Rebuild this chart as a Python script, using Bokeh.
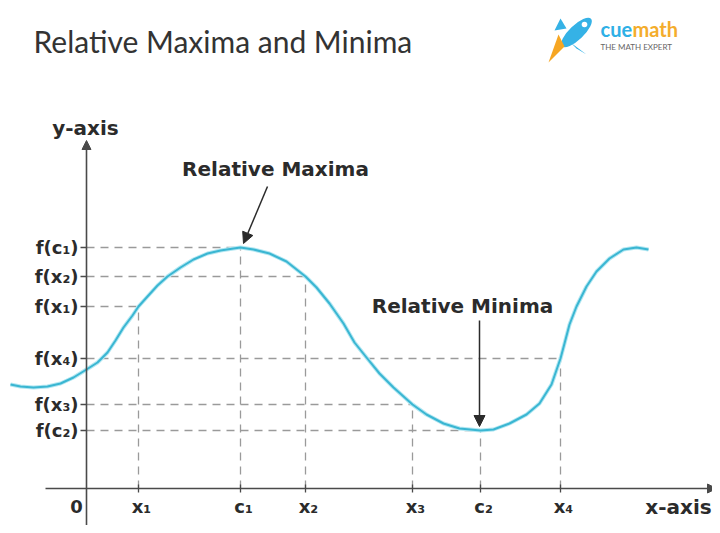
from bokeh.plotting import figure
from bokeh.models import Range1d, Arrow, NormalHead
from bokeh.core.properties import value
from bokeh.embed import file_html
from bokeh.resources import INLINE

# ---- data (units: one grid unit = 40 px) ----
curve_x = [-1.9, -1.65, -1.325, -0.975, -0.65, -0.325, 0.0, 0.275, 0.525, 0.725, 0.925,
           1.15, 1.3, 1.525, 1.775, 2.025, 2.35, 2.675, 3.025, 3.35, 3.675, 3.85,
           4.175, 4.575, 5.0, 5.475, 5.75, 6.075, 6.425, 6.7, 7.0, 7.325, 7.675,
           8.15, 8.5, 8.925, 9.325, 9.85, 10.175, 10.575, 11.0, 11.325, 11.625,
           11.85, 11.95, 12.075, 12.25, 12.5, 12.75, 13.075, 13.425, 13.75, 14.05]
curve_y = [2.6, 2.55, 2.525, 2.55, 2.625, 2.775, 2.975, 3.15, 3.4, 3.7, 4.025,
           4.325, 4.55, 4.8, 5.075, 5.3, 5.525, 5.725, 5.875, 5.95, 6.0, 6.025,
           5.975, 5.875, 5.675, 5.3, 5.025, 4.625, 4.125, 3.65, 3.275, 2.875, 2.525,
           2.1, 1.85, 1.625, 1.5, 1.45, 1.475, 1.625, 1.85, 2.125, 2.6,
           3.25, 3.625, 4.1, 4.55, 5.05, 5.425, 5.75, 5.975, 6.025, 5.975]

tick_x = [1.3, 3.85, 5.475, 8.15, 9.85, 11.85]
tick_x_labels = ["x\u2081", "c\u2081", "x\u2082", "x\u2083", "c\u2082", "x\u2084"]
tick_fy = [4.55, 6.025, 5.3, 2.1, 1.45, 3.25]
tick_y_labels = ["f(x\u2081)", "f(c\u2081)", "f(x\u2082)", "f(x\u2083)", "f(c\u2082)", "f(x\u2084)"]

title_text = "Relative Maxima and Minima"
max_label = "Relative Maxima"
min_label = "Relative Minima"

# ---- figure ----
p = figure(width=712, height=525, x_range=Range1d(-2.15, 15.65), y_range=Range1d(-0.925, 12.2),
           output_backend="svg", toolbar_location=None, x_axis_type=None, y_axis_type=None,
           min_border=0)
p.outline_line_color = None
p.background_fill_color = "white"
p.xgrid.visible = False
p.ygrid.visible = False

DARK = "#2b2b2b"
AXIS = "#4a4a4a"
DASH = "#9a9a9a"
n = len(tick_x)

# dashed guides
p.segment(x0=[0] * n, y0=tick_fy, x1=tick_x, y1=tick_fy, line_color=DASH,
          line_width=1.3, line_dash="8 6")
p.segment(x0=tick_x, y0=[0] * n, x1=tick_x, y1=tick_fy, line_color=DASH,
          line_width=1.3, line_dash="8 6")

# axes with arrow heads
p.add_layout(Arrow(x_start=-1.025, y_start=0, x_end=15.75, y_end=0, line_color=AXIS,
                   line_width=1.6, end=NormalHead(size=9, fill_color=AXIS, line_color=AXIS)))
p.add_layout(Arrow(x_start=0, y_start=-0.925, x_end=0, y_end=8.7, line_color=AXIS,
                   line_width=1.6, end=NormalHead(size=9, fill_color=AXIS, line_color=AXIS)))

# tick marks
p.segment(x0=tick_x, y0=[-0.1] * n, x1=tick_x, y1=[0.1] * n, line_color=AXIS, line_width=1.3)
p.segment(x0=[-0.15] * n, y0=tick_fy, x1=[0] * n, y1=tick_fy, line_color=AXIS, line_width=1.3)

# curve
p.line(curve_x, curve_y, line_color="#b3e7f2", line_width=4.0, line_join="round")
p.line(curve_x, curve_y, line_color="#3ab6d2", line_width=2.0, line_join="round")

LF = value("DejaVu Sans")
# tick labels
p.text(x=[-0.2] * n, y=tick_fy, text=tick_y_labels, text_align="right", text_baseline="middle",
       text_font=LF, text_font_style="bold", text_font_size="18px", text_color=DARK)
p.text(x=tick_x, y=[-0.45] * n, text=tick_x_labels, text_align="center", text_baseline="middle",
       x_offset=3, text_font=LF, text_font_style="bold", text_font_size="18px", text_color=DARK)
p.text(x=[-0.25], y=[-0.45], text=["0"], text_align="center", text_baseline="middle",
       text_font=LF, text_font_style="bold", text_font_size="18px", text_color=DARK)

# axis names
p.text(x=[14.8], y=[-0.45], text=["x-axis"], text_align="center", text_baseline="middle",
       text_font=LF, text_font_style="bold", text_font_size="20px", text_color=DARK)
p.text(x=[-0.025], y=[9.025], text=["y-axis"], text_align="center", text_baseline="middle",
       text_font=LF, text_font_style="bold", text_font_size="20px", text_color=DARK)

# annotations
p.text(x=[4.725], y=[8.0], text=[max_label], text_align="center", text_baseline="middle",
       text_font=LF, text_font_style="bold", text_font_size="20px", text_color=DARK)
p.text(x=[9.4], y=[4.575], text=[min_label], text_align="center", text_baseline="middle",
       text_font=LF, text_font_style="bold", text_font_size="20px", text_color=DARK)
p.add_layout(Arrow(x_start=4.525, y_start=7.55, x_end=3.925, y_end=6.125, line_color=DARK,
                   line_width=1.5, end=NormalHead(size=11, fill_color=DARK, line_color=DARK)))
p.add_layout(Arrow(x_start=9.825, y_start=4.2, x_end=9.825, y_end=1.55, line_color=DARK,
                   line_width=1.5, end=NormalHead(size=11, fill_color=DARK, line_color=DARK)))

# title
p.text(x=[-1.325], y=[11.2], text=[title_text], text_align="left", text_baseline="middle",
       text_font=value("Lato"), text_font_size="30px", text_color="#333333")

# logo
p.ellipse(x=[12.25], y=[11.4], width=[1.0], height=[0.36], angle=[0.76],
          fill_color="#35b2e6", line_color=None)
p.patch([11.95, 11.55, 11.8], [11.05, 10.65, 11.35], fill_color="#f6a623", line_color=None)
p.patch([11.7, 11.85, 12.0], [11.45, 11.75, 11.5], fill_color="#35b2e6", line_color=None)
p.patch([12.25, 12.5, 12.1], [11.0, 10.85, 11.15], fill_color="#35b2e6", line_color=None)
p.circle(x=[12.45], y=[11.6], radius=0.07, fill_color="white", line_color=None)
p.text(x=[12.85], y=[11.5], text=["cue"], text_align="left", text_baseline="middle",
       text_font=value("Lato"), text_font_style="bold", text_font_size="20px", text_color="#2fb0e6")
p.text(x=[13.65], y=[11.5], text=["math"], text_align="left", text_baseline="middle",
       text_font=value("Lato"), text_font_style="bold", text_font_size="20px", text_color="#f4ad2c")
p.text(x=[12.85], y=[11.03], text=["THE MATH EXPERT"], text_align="left", text_baseline="middle",
       text_font=value("Lato"), text_font_size="8px", text_color="#666666")

open("out.html", "w").write(file_html(p, INLINE))
